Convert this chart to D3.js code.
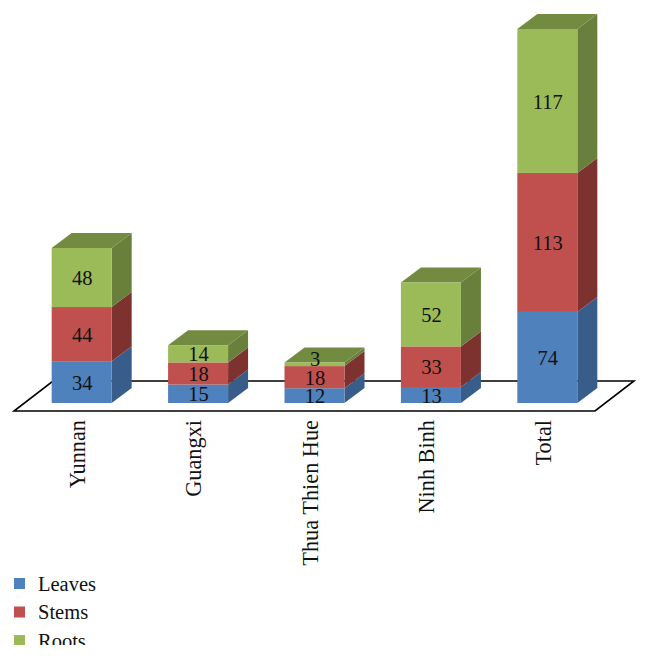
<!DOCTYPE html>
<html><head><meta charset="utf-8">
<script src="https://cdn.jsdelivr.net/npm/d3@7"></script>
<style>html,body{margin:0;padding:0;background:#fff}svg{display:block}text{font-family:"Liberation Serif",serif;fill:#111}</style>
</head><body><svg id="c" width="648" height="660"></svg>
<script>
const categories = ["Yunnan","Guangxi","Thua Thien Hue","Ninh Binh","Total"];
const seriesNames = ["Leaves","Stems","Roots"];
const leaves = [34,15,12,13,74];
const stems = [44,18,18,33,113];
const roots = [48,14,3,52,117];
const frontColors = ["#4f81bd","#c0504d","#9bbb59"];
const sideColors = ["#385d8a","#7d3230","#697f3c"];
const topColors = ["#41689a","#8c3a38","#728b41"];

const values = [leaves, stems, roots];
const svg = d3.select("#c");
const x = d3.scaleBand().domain(categories).range([23.5, 605.5]).paddingInner(0.4845).paddingOuter(0.242);
const y = d3.scaleLinear().domain([0, 304]).range([403, 29]);
const dx = 20, dy = -15;

// floor
const floorL = 14, floorR = 595, floorY = 411;
svg.append("path")
  .attr("d", `M${floorL},${floorY}H${floorR}L${floorR+39},${floorY-30}H${floorL+39}Z`)
  .attr("fill", "#fff").attr("stroke", "#000").attr("stroke-width", 1.6);

// stacks
const stack = d3.stack().keys(d3.range(3)).value((d, k) => values[k][d]);
const layers = stack(d3.range(categories.length));
layers.forEach((layer, s) => {
  const g = svg.append("g");
  layer.forEach((d, i) => {
    const x0 = x(categories[i]), w = x.bandwidth(), y0 = y(d[0]), y1 = y(d[1]);
    g.append("path").attr("fill", sideColors[s])
      .attr("d", `M${x0+w},${y1}L${x0+w+dx},${y1+dy}V${y0+dy}L${x0+w},${y0}Z`);
    if (s === 2) g.append("path").attr("fill", topColors[s])
      .attr("d", `M${x0},${y1}L${x0+dx},${y1+dy}H${x0+w+dx}L${x0+w},${y1}Z`);
    g.append("rect").attr("x", x0).attr("y", y1).attr("width", w).attr("height", y0 - y1).attr("fill", frontColors[s]);
  });
});

// value labels
layers.forEach((layer, s) => {
  layer.forEach((d, i) => {
    const v = values[s][i];
    const yc = (y(d[0]) + y(d[1])) / 2 + (v < 5 ? -6 : 0) + 0.5;
    svg.append("text").attr("x", x(categories[i]) + x.bandwidth()/2 + 0.5).attr("y", yc)
      .attr("dy", "0.35em").attr("text-anchor", "middle").attr("font-size", 20.5).text(v);
  });
});

// category labels
categories.forEach(c => {
  const cx = x(c) + x.bandwidth()/2 - 4;
  svg.append("text").attr("transform", `translate(${cx},420) rotate(-90)`)
    .attr("dy", "0.33em").attr("text-anchor", "end").attr("font-size", 22.3).text(c);
});

// legend (cut off by the picture's lower edge, as in the reference)
svg.append("clipPath").attr("id", "lc").append("rect").attr("x", 0).attr("y", 560).attr("width", 648).attr("height", 85);
const legend = svg.append("g").attr("clip-path", "url(#lc)");
const ly = d3.scalePoint().domain(seriesNames).range([584, 641]);
seriesNames.forEach((n, i) => {
  legend.append("rect").attr("x", 14).attr("y", ly(n) - 6).attr("width", 11).attr("height", 11).attr("fill", frontColors[i]);
  legend.append("text").attr("x", 38).attr("y", ly(n)).attr("dy", "0.33em").attr("font-size", 20.5).text(n);
});
</script></body></html>
